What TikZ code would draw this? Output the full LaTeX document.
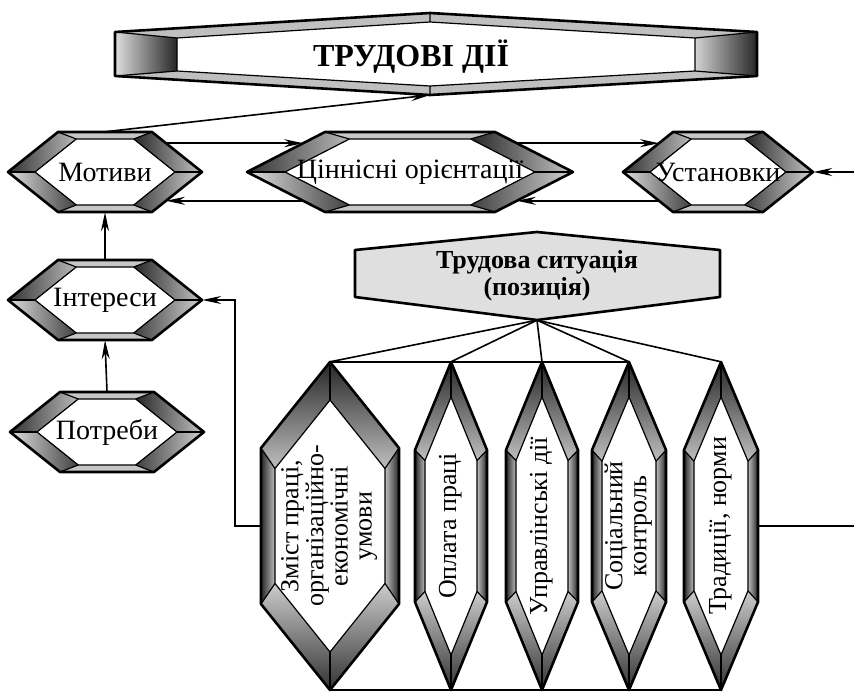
\documentclass[tikz,border=0pt]{standalone}
\usepackage{fontspec}
\setmainfont{Liberation Serif}
\usepackage{graphicx}
\usetikzlibrary{arrows.meta,calc}

\newcommand\hexH[9]{%
  \coordinate (#1-o1) at ({#2-#4},#3);
  \coordinate (#1-o2) at ({#2-#4+#6},{#3-#5});
  \coordinate (#1-o3) at ({#2+#4-#6},{#3-#5});
  \coordinate (#1-o4) at ({#2+#4},#3);
  \coordinate (#1-o5) at ({#2+#4-#6},{#3+#5});
  \coordinate (#1-o6) at ({#2-#4+#6},{#3+#5});
  \coordinate (#1-i1) at ({#2-#4+#7},#3);
  \coordinate (#1-i2) at ({#2-#4+#6+#7-#6*#8/#5},{#3-#5+#8});
  \coordinate (#1-i3) at ({#2+#4-#6-#7+#6*#8/#5},{#3-#5+#8});
  \coordinate (#1-i4) at ({#2+#4-#7},#3);
  \coordinate (#1-i5) at ({#2+#4-#6-#7+#6*#8/#5},{#3+#5-#8});
  \coordinate (#1-i6) at ({#2-#4+#6+#7-#6*#8/#5},{#3+#5-#8});
  \fill[band] (#1-o2) -- (#1-o3) -- (#1-i3) -- (#1-i2) -- cycle;
  \fill[band] (#1-o6) -- (#1-o5) -- (#1-i5) -- (#1-i6) -- cycle;
  \shade[left color=black!80, right color=gray!55] (#1-o1) -- (#1-o2) -- (#1-i2) -- (#1-i1) -- cycle;
  \shade[left color=gray!25, right color=black!75] (#1-o1) -- (#1-o6) -- (#1-i6) -- (#1-i1) -- cycle;
  \shade[left color=black!85, right color=gray!45] (#1-o3) -- (#1-o4) -- (#1-i4) -- (#1-i3) -- cycle;
  \shade[left color=black!75, right color=gray!35] (#1-o5) -- (#1-o4) -- (#1-i4) -- (#1-i5) -- cycle;
  \draw[outline] (#1-o1) -- (#1-o2) -- (#1-o3) -- (#1-o4) -- (#1-o5) -- (#1-o6) -- cycle;
  \draw[inline] (#1-i1) -- (#1-i2) -- (#1-i3) -- (#1-i4) -- (#1-i5) -- (#1-i6) -- cycle;
  \foreach \k in {1,...,6} \draw[inline] (#1-o\k) -- (#1-i\k);
  \node[lbl, minimum width={2*#4}, minimum height={2*#5}] (#1) at (#2,#3) {#9};
  \coordinate (#1-ne) at ($(#1-o4)!.72!(#1-o3)$);
  \coordinate (#1-se) at ($(#1-o4)!.72!(#1-o5)$);
  \coordinate (#1-nw) at ($(#1-o1)!.72!(#1-o2)$);
  \coordinate (#1-sw) at ($(#1-o1)!.72!(#1-o6)$);
}

\newcommand\hexV[9]{%
  \coordinate (#1-o1) at (#2,{#3-#5});
  \coordinate (#1-o2) at ({#2+#4},{#3-#5+#6});
  \coordinate (#1-o3) at ({#2+#4},{#3+#5-#6});
  \coordinate (#1-o4) at (#2,{#3+#5});
  \coordinate (#1-o5) at ({#2-#4},{#3+#5-#6});
  \coordinate (#1-o6) at ({#2-#4},{#3-#5+#6});
  \coordinate (#1-i1) at (#2,{#3-#5+#7});
  \coordinate (#1-i2) at ({#2+#4-#8},{#3-#5+#6+#7-#6*#8/#4});
  \coordinate (#1-i3) at ({#2+#4-#8},{#3+#5-#6-#7+#6*#8/#4});
  \coordinate (#1-i4) at (#2,{#3+#5-#7});
  \coordinate (#1-i5) at ({#2-#4+#8},{#3+#5-#6-#7+#6*#8/#4});
  \coordinate (#1-i6) at ({#2-#4+#8},{#3-#5+#6+#7-#6*#8/#4});
  \shade[top color=black!85, bottom color=gray!50] (#1-o1) -- (#1-o2) -- (#1-i2) -- (#1-i1) -- cycle;
  \shade[top color=black!85, bottom color=gray!50] (#1-o1) -- (#1-o6) -- (#1-i6) -- (#1-i1) -- cycle;
  \shade[left color=gray!50, right color=black!85] (#1-o2) -- (#1-o3) -- (#1-i3) -- (#1-i2) -- cycle;
  \shade[left color=black!85, right color=gray!50] (#1-o5) -- (#1-o6) -- (#1-i6) -- (#1-i5) -- cycle;
  \shade[top color=gray!40, bottom color=black!80] (#1-o3) -- (#1-o4) -- (#1-i4) -- (#1-i3) -- cycle;
  \shade[top color=gray!40, bottom color=black!80] (#1-o5) -- (#1-o4) -- (#1-i4) -- (#1-i5) -- cycle;
  \draw[outline] (#1-o1) -- (#1-o2) -- (#1-o3) -- (#1-o4) -- (#1-o5) -- (#1-o6) -- cycle;
  \draw[inline] (#1-i1) -- (#1-i2) -- (#1-i3) -- (#1-i4) -- (#1-i5) -- (#1-i6) -- cycle;
  \foreach \k in {1,...,6} \draw[inline] (#1-o\k) -- (#1-i\k);
  \node[vlbl, minimum width={2*#4}, minimum height={2*#5}] (#1) at (#2,#3)
    {\rotatebox{90}{\begin{tabular}{@{}c@{}}#9\end{tabular}}};
}

\begin{document}
\begin{tikzpicture}[x=1pt, y=-1pt,
  band/.style={fill=gray!45},
  outline/.style={line width=2.6pt, line join=round},
  inline/.style={line width=1.2pt, line join=round},
  lbl/.style={inner sep=0pt, font=\fontsize{28}{28}\selectfont},
  vlbl/.style={inner sep=0pt, font=\fontsize{26}{24}\selectfont},
  arr/.style={-{Stealth[length=19pt,width=8pt]}, line width=1.6pt},
  link/.style={line width=1.6pt}]

	\fill[white] (0,0) rectangle (854,693);
	\useasboundingbox (0,0) rectangle (854,693);

	\fill[gray!50] (115,32) -- (430,13) -- (757,32) -- (695,38) -- (430,22) -- (177,38) -- cycle;
	\fill[gray!50] (115,76) -- (430,95) -- (757,76) -- (695,71) -- (430,86) -- (177,71) -- cycle;
	\shade[left color=gray!25, right color=black!85] (115,32) -- (177,38) -- (177,71) -- (115,76) -- cycle;
	\shade[left color=gray!35, right color=black!85] (695,38) -- (757,32) -- (757,76) -- (695,71) -- cycle;
	\draw[outline] (115,32) -- (430,13) -- (757,32) -- (757,76) -- (430,95) -- (115,76) -- cycle;
	\draw[inline] (177,38) -- (430,22) -- (695,38) -- (695,71) -- (430,86) -- (177,71) -- cycle;
	\draw[inline] (115,32) -- (177,38) (115,76) -- (177,71) (757,32) -- (695,38) (757,76) -- (695,71)
		(430,13) -- (430,22) (430,95) -- (430,86);
	\node[font=\fontsize{32}{34}\selectfont\bfseries] (dii) at (411,57) {ТРУДОВІ ДІЇ};
	\coordinate (dii-b) at (430,95);

	\hexH{mot}{105}{172}{97}{40}{50}{27}{7}{Мотиви}
	\hexH{cin}{410}{172}{163}{40}{78}{38}{7}{Ціннісні орієнтації}
	\hexH{ust}{718}{172}{95}{40}{50}{27}{7}{Установки}
	\hexH{int}{105}{300}{97}{40}{50}{27}{7}{Інтереси}
	\hexH{pot}{107}{432}{97}{40}{50}{27}{7}{Потреби}

	\fill[gray!25] (355,250) -- (537,232) -- (720,250) -- (720,297) -- (537,320) -- (355,297) -- cycle;
	\draw[outline] (355,250) -- (537,232) -- (720,250) -- (720,297) -- (537,320) -- (355,297) -- cycle;
	\node[inner sep=0pt, minimum width=365, minimum height=88, align=center,
		font=\fontsize{26}{27}\selectfont\bfseries] (sit) at (537,276) {Трудова ситуація\\(позиція)};

	\hexV{zm}{330}{526}{69}{164}{86}{38}{14}{Зміст праці,\\організаційно-\\економічні\\умови}
	\hexV{opl}{451}{526}{36}{164}{88}{35}{10}{Оплата праці}
	\hexV{upr}{542}{526}{36}{164}{88}{35}{10}{Управлінські дії}
	\hexV{soc}{629}{526}{37}{164}{88}{35}{10}{Соціальний\\контроль}
	\hexV{trad}{721}{526}{37}{164}{88}{35}{10}{Традиції, норми}

	\coordinate (ustin) at (854,172);
	\coordinate (tradout) at (854,526);

	\draw[arr] (mot.north) -- (dii-b);
	\draw[arr] (mot-ne) -- (cin-nw);
	\draw[arr] (cin-sw) -- (mot-se);
	\draw[arr] (cin-ne) -- (ust-nw);
	\draw[arr] (ust-sw) -- (cin-se);
	\draw[arr] (ustin) -- (ust.east);
	\draw[arr] (int.north) -- (mot.south);
	\draw[arr] (pot.north) -- (int.south);
	\draw[arr] (zm.west) -- ++(-26,0) |- (int.east);
	\draw[link] (trad.east) -- (tradout);
	\foreach \n in {zm,opl,upr,soc,trad} \draw[link] (sit.south) -- (\n.north);
	\draw[link] (zm.north) -- (soc.north);
	\draw[link] (zm.south) -- (trad.south);
\end{tikzpicture}
\end{document}
